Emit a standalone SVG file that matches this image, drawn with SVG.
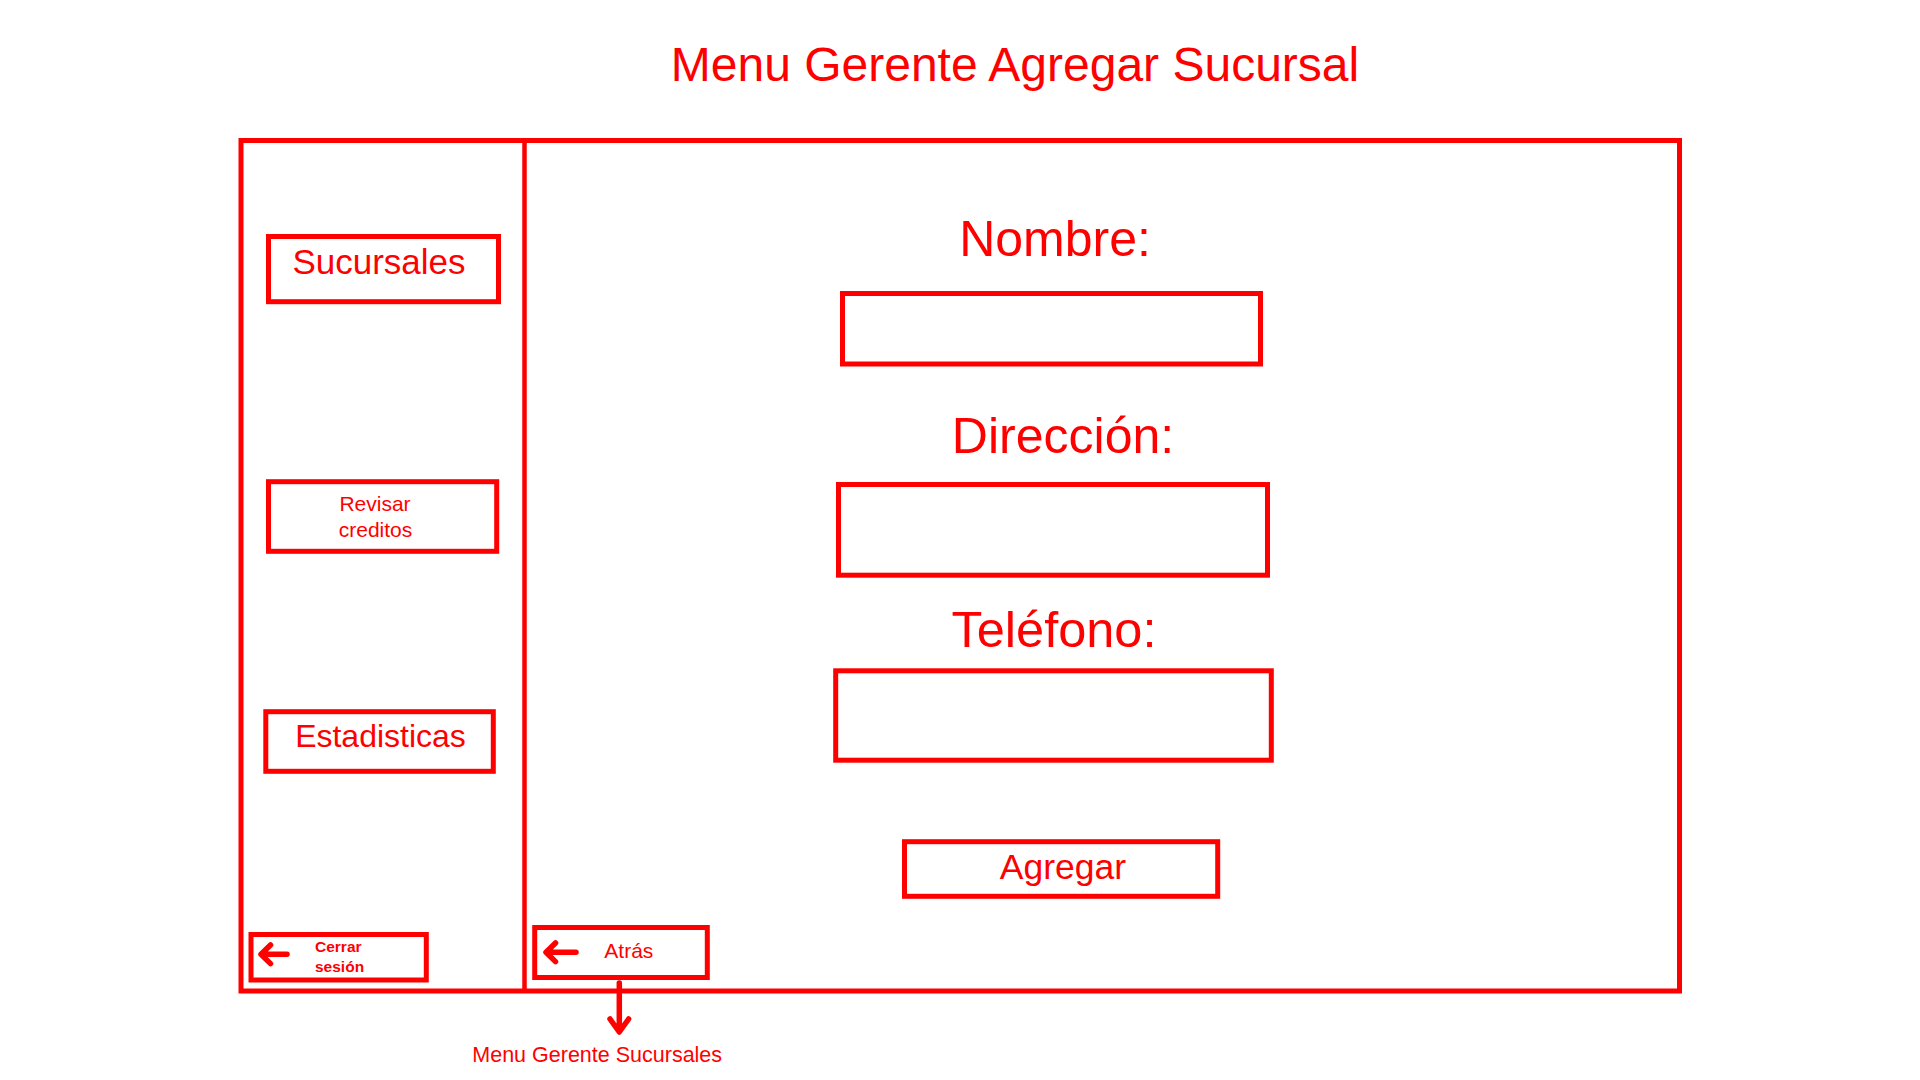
<svg xmlns="http://www.w3.org/2000/svg" width="1920" height="1080" viewBox="0 0 1920 1080">
<style>
.box{fill:none;stroke:#ff0000;stroke-width:5}
.t{font-family:"Liberation Sans",Arial,sans-serif;fill:#ff0000}
.ic{fill:none;stroke:#ff0000;stroke-width:5.5;stroke-linecap:round;stroke-linejoin:round}
</style>
<rect width="1920" height="1080" fill="#ffffff"/>
<g id="title">
<text class="t" x="1015" y="81" font-size="48" text-anchor="middle">Menu Gerente Agregar Sucursal</text>
</g>
<g id="frame">
<rect class="box" x="241" y="140.5" width="1438.5" height="850.5"/>
<line x1="524.5" y1="140.5" x2="524.5" y2="991" stroke="#ff0000" stroke-width="4.5"/>
</g>
<g id="btn-sucursales">
<rect class="box" x="268.5" y="236.5" width="230" height="65.2"/>
<text class="t" x="379" y="274" font-size="35" text-anchor="middle">Sucursales</text>
</g>
<g id="btn-revisar">
<rect class="box" x="268.5" y="481.7" width="228.2" height="69.6"/>
<text class="t" x="375" y="511" font-size="21" text-anchor="middle">Revisar</text>
<text class="t" x="375.5" y="536.7" font-size="21" text-anchor="middle">creditos</text>
</g>
<g id="btn-estadisticas">
<rect class="box" x="265.8" y="711.7" width="227.5" height="59.6"/>
<text class="t" x="380.5" y="746.7" font-size="32" text-anchor="middle">Estadisticas</text>
</g>
<g id="btn-cerrar">
<rect class="box" x="251" y="934.5" width="175.3" height="45.5"/>
<path class="ic" d="M287 954.3 H262 M270.5 945 L261 954.3 L270.5 963.6"/>
<text class="t" x="315" y="952.3" font-size="15.5" font-weight="bold">Cerrar</text>
<text class="t" x="315" y="972.3" font-size="15.5" font-weight="bold">sesión</text>
</g>
<g id="btn-atras">
<rect class="box" x="534.7" y="927.5" width="172.6" height="50"/>
<path class="ic" d="M576 952.3 H547 M555.5 943 L546 952.3 L555.5 961.6"/>
<text class="t" x="604.3" y="957.7" font-size="21">Atrás</text>
</g>
<g id="field-nombre">
<text class="t" x="1055" y="256" font-size="50" text-anchor="middle">Nombre:</text>
<rect class="box" x="842.5" y="293.5" width="418" height="70.5"/>
</g>
<g id="field-direccion">
<text class="t" x="1063" y="453.3" font-size="50" text-anchor="middle">Dirección:</text>
<rect class="box" x="838.5" y="484.5" width="429" height="90.7"/>
</g>
<g id="field-telefono">
<text class="t" x="1054" y="647.3" font-size="50.5" text-anchor="middle">Teléfono:</text>
<rect class="box" x="835.7" y="670.8" width="435.6" height="89.4"/>
</g>
<g id="btn-agregar">
<rect class="box" x="904.5" y="841.7" width="313.2" height="54.6"/>
<text class="t" x="1063" y="879.3" font-size="35.5" text-anchor="middle">Agregar</text>
</g>
<g id="connectors">
<path class="ic" d="M619.3 983 V1031 M610 1019 L619.3 1032 L628.6 1019"/>
</g>
<g id="target-label">
<text class="t" x="472.3" y="1061.7" font-size="21.5">Menu Gerente Sucursales</text>
</g>
</svg>
